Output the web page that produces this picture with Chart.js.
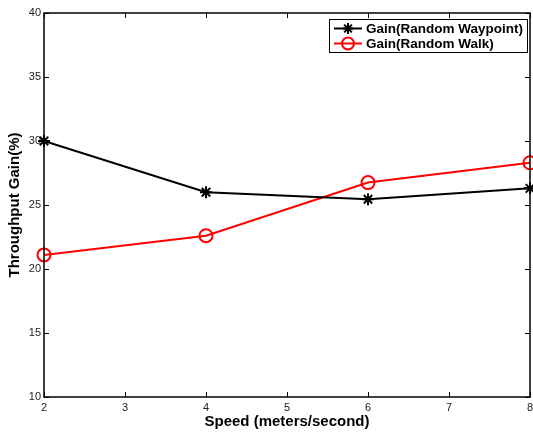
<!DOCTYPE html>
<html>
<head>
<meta charset="utf-8">
<script src="https://cdn.jsdelivr.net/npm/chart.js@4/dist/chart.umd.min.js"></script>
<style>
  html, body { margin: 0; padding: 0; background: #fff; }
  #wrap { width: 533px; height: 433px; }
</style>
</head>
<body>
<div id="wrap"><canvas id="chart1" width="533" height="433"></canvas></div>
<script>
const speeds = [2, 4, 6, 8];
const gainWaypoint = [30.0, 26.0, 25.45, 26.3];
const gainWalk = [21.1, 22.6, 26.75, 28.3];
const seriesNames = ["Gain(Random Waypoint)", "Gain(Random Walk)"];
const xTicks = [2, 3, 4, 5, 6, 7, 8];
const yTicks = [10, 15, 20, 25, 30, 35, 40];

const toPoints = (ys) => speeds.map((x, i) => ({ x, y: ys[i] }));

// frame, inside ticks on all four sides, and boxed legend like matlab
const matlabFrame = {
    id: "matlabFrame",
    afterDatasetsDraw(chart) {
        const { ctx, chartArea: a, scales } = chart;
        ctx.save();
        ctx.strokeStyle = "#000";
        ctx.lineWidth = 1;
        ctx.beginPath();
        xTicks.forEach((t) => {
            const px = Math.round(scales.x.getPixelForValue(t)) + 0.5;
            ctx.moveTo(px, a.bottom);
            ctx.lineTo(px, a.bottom - 5);
            ctx.moveTo(px, a.top);
            ctx.lineTo(px, a.top + 5);
        });
        yTicks.forEach((t) => {
            const py = Math.round(scales.y.getPixelForValue(t)) + 0.5;
            ctx.moveTo(a.left, py);
            ctx.lineTo(a.left + 5, py);
            ctx.moveTo(a.right, py);
            ctx.lineTo(a.right - 5, py);
        });
        ctx.stroke();
        ctx.lineWidth = 1.5;
        ctx.strokeRect(a.left, a.top, a.right - a.left, a.bottom - a.top);

        // legend
        const lx = 329, ly = 19, lw = 198, lh = 33;
        ctx.fillStyle = "#fff";
        ctx.fillRect(lx, ly, lw, lh);
        ctx.lineWidth = 1;
        ctx.strokeRect(lx + 0.5, ly + 0.5, lw, lh);
        ctx.font = "bold 13.5px 'Liberation Sans', Arial, sans-serif";
        ctx.textBaseline = "middle";
        ctx.textAlign = "left";
        const rows = [
            { name: seriesNames[0], color: "#000", style: "star", y: ly + 9.5 },
            { name: seriesNames[1], color: "#ff0000", style: "circle", y: ly + 24.5 },
        ];
        rows.forEach((r) => {
            ctx.strokeStyle = r.color;
            ctx.lineWidth = 2;
            ctx.beginPath();
            ctx.moveTo(lx + 5, r.y);
            ctx.lineTo(lx + 33, r.y);
            ctx.stroke();
            ctx.fillStyle = "rgba(0,0,0,0)";
            Chart.helpers.drawPoint(ctx, {
                pointStyle: r.style,
                radius: r.style === "star" ? 5.5 : 6,
                borderWidth: 2,
                rotation: 0,
            }, lx + 19, r.y);
            ctx.fillStyle = "#000";
            ctx.fillText(r.name, lx + 37, r.y + 1);
        });
        ctx.restore();
    },
};

const tickFont = { family: "'Liberation Sans', Arial, sans-serif", size: 11 };
const titleFont = { family: "'Liberation Sans', Arial, sans-serif", size: 15, weight: "bold" };

new Chart(document.getElementById("chart1"), {
    type: "scatter",
    data: {
        datasets: [
            {
                label: seriesNames[0],
                data: toPoints(gainWaypoint),
                showLine: true,
                borderColor: "#000",
                backgroundColor: "#000",
                borderWidth: 2,
                pointStyle: "star",
                pointRadius: 6,
                pointBorderWidth: 2,
            },
            {
                label: seriesNames[1],
                data: toPoints(gainWalk),
                showLine: true,
                borderColor: "#ff0000",
                backgroundColor: "rgba(0,0,0,0)",
                borderWidth: 2,
                pointStyle: "circle",
                pointRadius: 6.5,
                pointBorderWidth: 2,
            },
        ],
    },
    options: {
        responsive: false,
        animation: false,
        events: [],
        clip: false,
        layout: { autoPadding: false, padding: { left: 0, right: 3, top: 13, bottom: 0 } },
        plugins: {
            legend: { display: false },
            tooltip: { enabled: false },
        },
        scales: {
            x: {
                type: "linear",
                min: 2,
                max: 8,
                afterBuildTicks: (s) => { s.ticks = xTicks.map((v) => ({ value: v })); },
                afterFit: (s) => { s.height = 36; s.paddingLeft = 0; s.paddingRight = 0; },
                grid: { display: false, drawTicks: false },
                border: { display: false },
                ticks: { font: tickFont, color: "#222", padding: 4 },
                title: {
                    display: true,
                    text: "Speed (meters/second)",
                    font: titleFont,
                    color: "#000",
                    padding: { top: 0, bottom: 2 },
                },
            },
            y: {
                type: "linear",
                min: 10,
                max: 40,
                afterBuildTicks: (s) => { s.ticks = yTicks.map((v) => ({ value: v })); },
                afterFit: (s) => { s.width = 44; s.paddingTop = 0; s.paddingBottom = 0; },
                grid: { display: false, drawTicks: false },
                border: { display: false },
                ticks: { font: tickFont, color: "#222", padding: 3 },
                title: {
                    display: true,
                    text: "Throughput Gain(%)",
                    font: titleFont,
                    color: "#000",
                    padding: { top: 6, bottom: 0 },
                },
            },
        },
    },
    plugins: [matlabFrame],
});
</script>
</body>
</html>
